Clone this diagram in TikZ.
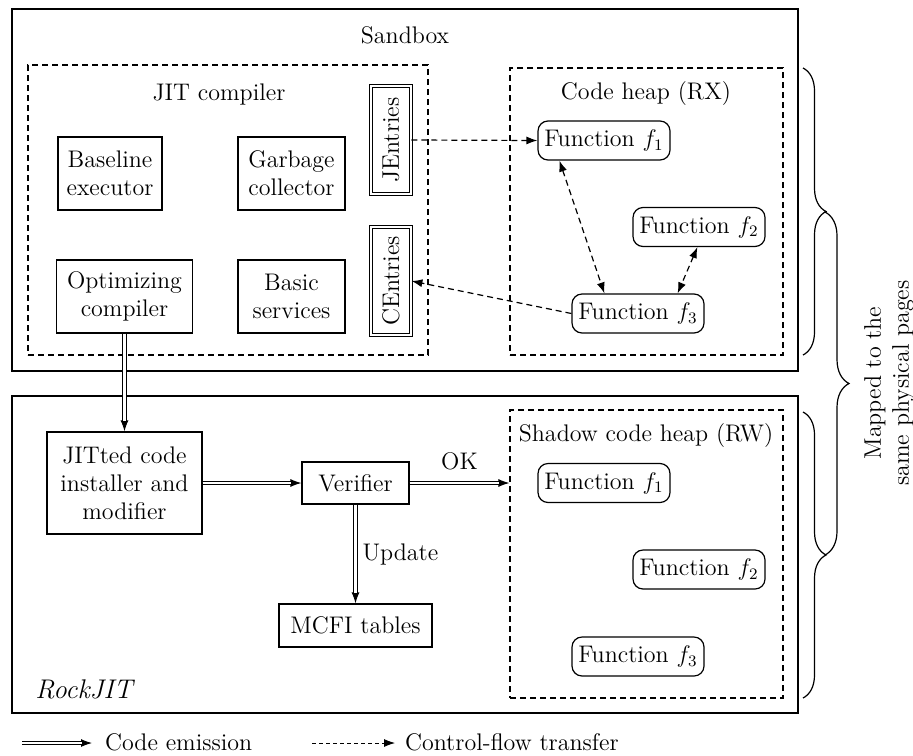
\documentclass[tikz,border=0pt]{standalone}
\usetikzlibrary{arrows.meta,decorations.pathreplacing}
\begin{document}
\begin{tikzpicture}[x=0.5pt,y=-0.5pt,>={Latex[length=5.5pt,width=4pt]},font=\fontsize{12}{14}\selectfont]
\tikzset{
  region/.style={draw,line width=0.9pt},
  heap/.style={draw,semithick,dash pattern=on 3pt off 2pt,inner sep=0pt},
  unit/.style={draw,semithick,align=center,inner sep=2pt,minimum height=36.5pt},
  entry/.style={draw,double,double distance=1pt,rotate=90,minimum width=54pt,minimum height=20pt,inner sep=1pt},
  func/.style={draw,semithick,rounded corners=5pt,minimum width=66pt,minimum height=19.5pt,inner sep=1pt},
  flow/.style={semithick,dash pattern=on 3pt off 2pt},
  emit/.style={postaction={draw,->,line width=0.5pt},
    postaction={draw,double,double distance=1.1pt,line width=0.5pt,shorten >=5pt}},
  mapbrace/.style={decorate,decoration={brace,amplitude=11.5pt},semithick}
}
\useasboundingbox (0,0) rectangle (913,755);
\draw[region] (12,9) rectangle (798,371);
\draw[region] (12,396) rectangle (798,713);
\node (sandbox) at (405,35) {Sandbox};
\node[font=\fontsize{13.5}{16}\selectfont\itshape] (rockjit) at (84,689) {RockJIT};
\node[heap,minimum width=200pt,minimum height=145pt] (jitc) at (228,210) {};
\node[heap,minimum width=136.5pt,minimum height=143.5pt] (rxheap) at (646.5,211.5) {};
\node[heap,minimum width=136.5pt,minimum height=144pt] (rwheap) at (646.5,554) {};
\node (jitlabel) at (219,94) {JIT compiler};
\node (rxlabel) at (646,94) {Code heap (RX)};
\node (rwlabel) at (646,436) {Shadow code heap (RW)};
\node[unit,minimum width=52pt] (base) at (110,173.5) {Baseline\\executor};
\node[unit,minimum width=53.5pt] (gc) at (291.5,173.5) {Garbage\\collector};
\node[unit,minimum width=68pt] (opt) at (124.5,296.5) {Optimizing\\compiler};
\node[unit,minimum width=53.5pt] (basic) at (291.5,296.5) {Basic\\services};
\node[entry] (jent) at (391,140) {JEntries};
\node[entry] (cent) at (391,281) {CEntries};
\node[func] (f1) at (604,140.5) {Function $f_1$};
\node[func] (f2) at (699,227) {Function $f_2$};
\node[func] (f3) at (638,313.5) {Function $f_3$};
\node[unit,minimum width=77.5pt,minimum height=51pt] (jit) at (124.5,483) {JITted code\\installer and\\modifier};
\node[unit,minimum width=53.5pt,minimum height=21pt] (ver) at (355.5,483) {Verifier};
\node[unit,minimum width=76.5pt,minimum height=21.5pt] (mcfi) at (355.5,625.5) {MCFI tables};
\node[func] (s1) at (604,483) {Function $f_1$};
\node[func] (s2) at (699,569.5) {Function $f_2$};
\node[func] (s3) at (638,656.5) {Function $f_3$};
\draw[flow,->] (jent.south) -- (f1.west);
\draw[flow,<->] ([xshift=11pt]f1.south west) -- ([xshift=16.5pt]f3.north west);
\draw[flow,<->] ([xshift=32.5pt]f2.south west) -- ([xshift=-13.5pt]f3.north east);
\draw[flow,->] (f3.west) -- (cent.south);
\path[emit] (opt) -- (jit);
\path[emit] (jit) -- (ver);
\path[emit] (ver) -- node[above=3pt] {OK} (ver.east -| rwheap.west);
\path[emit] (ver) -- node[right] {Update} (mcfi);
\draw[mapbrace] (803,68) -- (803,355);
\draw[mapbrace] (803,412) -- (803,698);
\draw[mapbrace,decoration={amplitude=12pt}] (825,212) -- (825,555);
\node[rotate=90,align=center] (mapped) at (889,383) {Mapped to the\\same physical pages};
\coordinate (e0) at (22,743);
\coordinate (e1) at (92,743);
\coordinate (c0) at (312,743);
\coordinate (c1) at (395,743);
\path[emit] (e0) -- (e1);
\node[anchor=west] (emitkey) at (98,742) {Code emission};
\draw[->,line width=0.4pt,dash pattern=on 2pt off 1.5pt] (c0) -- (c1);
\node[anchor=west] (flowkey) at (398,742) {Control-flow transfer};
\end{tikzpicture}
\end{document}
